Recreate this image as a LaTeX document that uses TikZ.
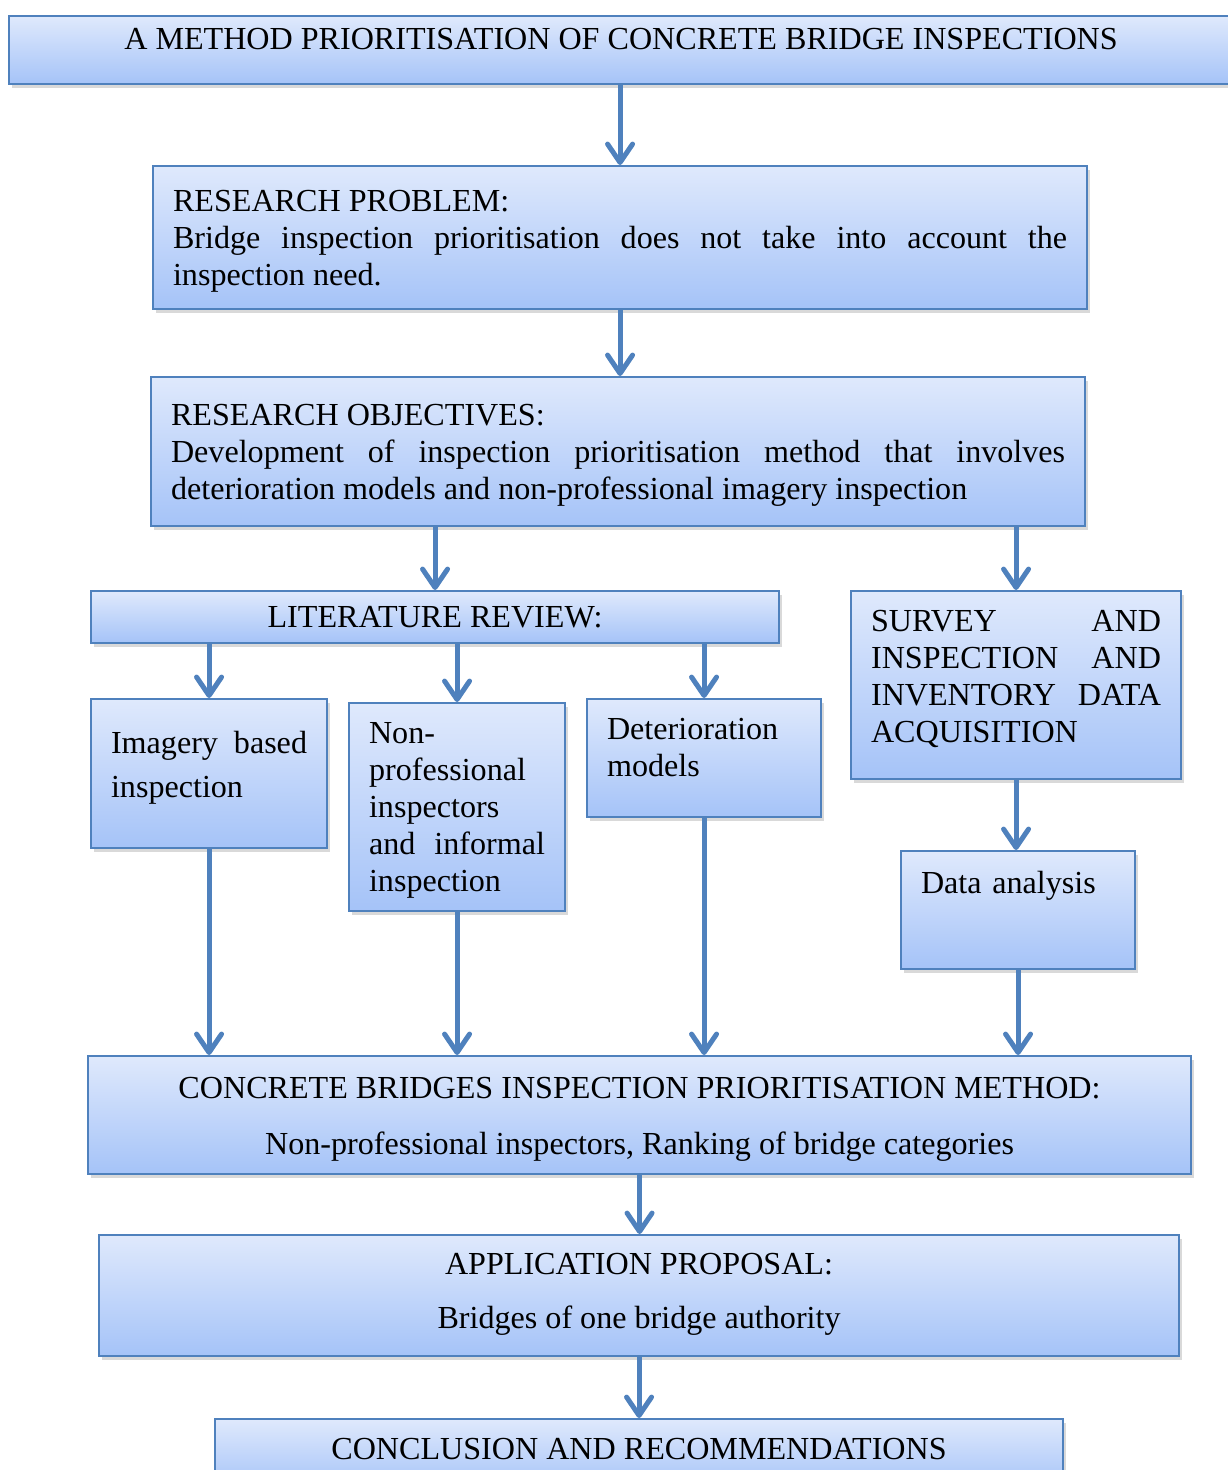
\documentclass[tikz,border=0pt]{standalone}
\usepackage{fontspec}
\setmainfont{Liberation Serif}
\usetikzlibrary{arrows.meta,shadows}
\newlength\pxu
\setlength\pxu{0.38pt}
\definecolor{boxedge}{HTML}{4F81BD}
\definecolor{boxtop}{HTML}{DFE9FC}
\definecolor{boxbottom}{HTML}{A5C3F8}
\definecolor{linkblue}{HTML}{4F81BD}
\newcommand\lowpad[1]{\rule[-#1\pxu]{0pt}{0pt}}
\newcommand\highpad[1]{\rule[#1\pxu]{0pt}{0pt}}
\begin{document}
\begin{tikzpicture}[x=0.38pt,y=-0.38pt,
  every node/.style={font=\fontsize{12.2}{14.06}\selectfont},
  box/.style={draw=boxedge,line width=0.8pt,top color=boxtop,bottom color=boxbottom,
    anchor=north west,inner xsep=20\pxu,inner ysep=2pt,
    drop shadow={shadow xshift=1.2pt,shadow yshift=-1.4pt,opacity=0.3}},
  link/.style={draw=linkblue,line width=1.9pt,-{Straight Barb[length=7pt,width=9.5pt,round]}}]
\useasboundingbox (0,0) rectangle (1228,1470);
\node[box,minimum width=1224\pxu,minimum height=68\pxu] (title) at (8,15)
  {A METHOD PRIORITISATION OF CONCRETE BRIDGE INSPECTIONS\lowpad{22}};
\node[box,minimum height=143\pxu,text width=894\pxu,align=justify] (rp) at (152,165)
  {\highpad{29}RESEARCH PROBLEM:\\ Bridge inspection prioritisation does not take into account the\linebreak inspection need.};
\node[box,minimum height=149\pxu,text width=894\pxu,align=justify] (ro) at (150,376)
  {\highpad{29}RESEARCH OBJECTIVES:\\ Development of inspection prioritisation method that involves\linebreak deterioration models and non-professional imagery inspection};
\node[box,minimum width=688\pxu,minimum height=52\pxu] (lr) at (90,590) {LITERATURE REVIEW:};
\node[box,minimum height=188\pxu,text width=290\pxu,align=left] (sv) at (850,590)
  {SURVEY\hfill AND\\ INSPECTION\hfill AND\\ INVENTORY\hfill DATA\\ ACQUISITION\lowpad{18}};
\node[box,minimum height=149\pxu,text width=196\pxu,align=left] (im) at (90,698)
  {Imagery\hfill based\\[7\pxu] inspection\lowpad{18}};
\node[box,minimum height=208\pxu,text width=176\pxu,align=left] (np) at (348,702)
  {\highpad{27}Non-\\ professional\\ inspectors\\ and\hfill informal\\ inspection};
\node[box,minimum height=118\pxu,text width=194\pxu,align=left] (dm) at (586,698)
  {Deterioration\\ models\lowpad{22}};
\node[box,minimum height=118\pxu,text width=194\pxu,align=left] (da) at (900,850)
  {Data analysis\lowpad{56}};
\node[box,minimum width=1103\pxu,minimum height=118\pxu,align=center] (cb) at (87,1055)
  {\highpad{29}CONCRETE BRIDGES INSPECTION PRIORITISATION METHOD:\\[7.2pt] Non-professional inspectors, Ranking of bridge categories};
\node[box,minimum width=1080\pxu,minimum height=121\pxu,align=center] (ap) at (98,1234)
  {APPLICATION PROPOSAL:\\[6.5pt] Bridges of one bridge authority\lowpad{10}};
\node[box,minimum width=848\pxu,minimum height=70\pxu] (cr) at (214,1418)
  {CONCLUSION AND RECOMMENDATIONS\lowpad{10}};
\draw[link] (rp.north |- title.south) -- (rp.north);
\draw[link] (rp.south) -- (rp.south |- ro.north);
\draw[link] (lr.north |- ro.south) -- (lr.north);
\draw[link] (sv.north |- ro.south) -- (sv.north);
\foreach \n in {im,np,dm}
  \draw[link] (\n.north |- lr.south) -- (\n.north);
\draw[link] (sv.south) -- (sv.south |- da.north);
\foreach \n in {im,np,dm,da}
  \draw[link] (\n.south) -- (\n.south |- cb.north);
\draw[link] (cb.south) -- (cb.south |- ap.north);
\draw[link] (ap.south) -- (ap.south |- cr.north);
\end{tikzpicture}
\end{document}
